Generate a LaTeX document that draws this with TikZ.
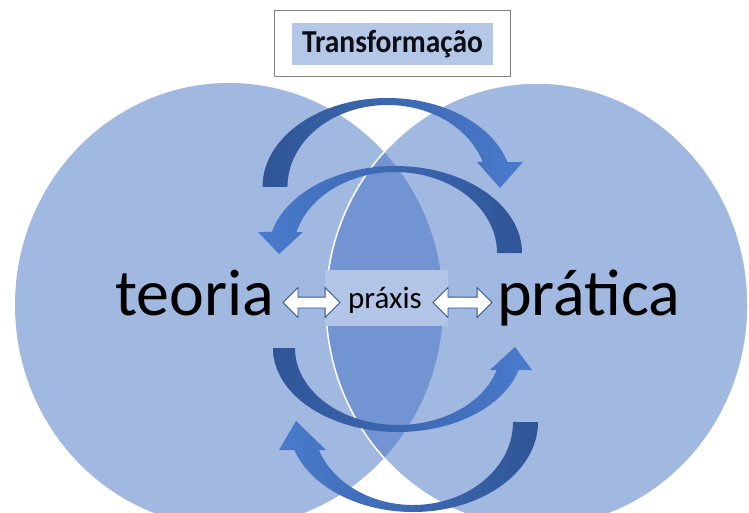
\documentclass[tikz,border=0pt]{standalone}
\usepackage{fontspec}
\setmainfont{Carlito}
\newfontfamily\titlefont{Carlito}[FakeStretch=0.92]
\usetikzlibrary{shapes.arrows}
\definecolor{circ}{HTML}{4472C4}
\definecolor{dk}{HTML}{2F5597}
\definecolor{lt}{HTML}{4A7BCC}
\definecolor{band}{HTML}{B2C5E6}
\definecolor{boxin}{HTML}{B4C7E7}
\definecolor{txt}{HTML}{0D0D14}
\tikzset{
  disc/.style={fill=circ, fill opacity=0.5},
  darrow/.style={double arrow, draw=dk, fill=white, line width=0.8pt,
    inner xsep=0pt, inner ysep=5pt, double arrow head extend=9.5pt,
    double arrow head indent=0pt},
  bigword/.style={font=\fontsize{66}{70}\selectfont, text=black, anchor=base west, inner sep=0pt},
}
\begin{document}
\begin{tikzpicture}[x=1pt,y=1pt]
\useasboundingbox (0,0) rectangle (749,-513);
\fill[white] (0,0) rectangle (749,-513);
% circles
\fill[disc] (229,-305) ellipse[x radius=214pt, y radius=222pt];
\fill[disc] (537,-305) ellipse[x radius=211pt, y radius=222pt];
\draw[white, line width=1.5pt] (537,-305) ellipse[x radius=211pt, y radius=222pt];
% band behind praxis
\fill[band] (325,-270) rectangle (448,-326);
% arrow A (top outer)
\shade[left color=dk, right color=lt]
  (262.5,-187) arc[start angle=180,end angle=16.31,x radius=125pt,y radius=89pt]
  -- (523,-162) -- (500,-188) -- (477,-162) -- (482.7,-162)
  arc[start angle=17.75,end angle=180,x radius=100pt,y radius=82pt] -- cycle;
% arrow B (top inner)
\shade[left color=lt, right color=dk]
  (522,-253) arc[start angle=0,end angle=166.03,x radius=127pt,y radius=87pt]
  -- (258,-232) -- (279,-254) -- (303,-232) -- (296.5,-232)
  arc[start angle=164.97,end angle=0,x radius=102pt,y radius=81pt] -- cycle;
% arrow C (bottom inner)
\shade[left color=dk, right color=lt]
  (273,-348) arc[start angle=180,end angle=344.82,x radius=125pt,y radius=84pt]
  -- (532,-370) -- (515,-347) -- (490,-370) -- (496.7,-370)
  arc[start angle=343.4,end angle=180,x radius=103pt,y radius=77pt] -- cycle;
% arrow D (bottom outer)
\shade[left color=lt, right color=dk]
  (538,-422) arc[start angle=0,end angle=-161.87,x radius=125pt,y radius=90pt]
  -- (279,-450) -- (296,-421) -- (326,-450) -- (318.9,-450)
  arc[start angle=-160.28,end angle=0,x radius=100pt,y radius=83pt] -- cycle;
% words
\node[bigword] (teoria) at (115,-315) {teoria};
\node[bigword] (pratica) at (497,-315) {prática};
\node[font=\fontsize{31}{34}\selectfont, text=black, inner sep=0pt, anchor=base] (praxis) at (385,-308) {práxis};
\node[darrow, minimum height=57pt] (la) at (311.5,-302.5) {};
\node[darrow, minimum height=59pt] (ra) at (462.5,-302.5) {};
% title box
\node[draw=gray, line width=1pt, fill=white, minimum width=236pt, minimum height=66pt, inner sep=0pt] (frame) at (392,-44) {};
\node[fill=boxin, minimum width=201pt, minimum height=42pt, inner sep=0pt,
      font=\titlefont\bfseries\fontsize{32}{34}\selectfont, text=txt] (title) at (392.5,-44) {Transformação};
\end{tikzpicture}
\end{document}
